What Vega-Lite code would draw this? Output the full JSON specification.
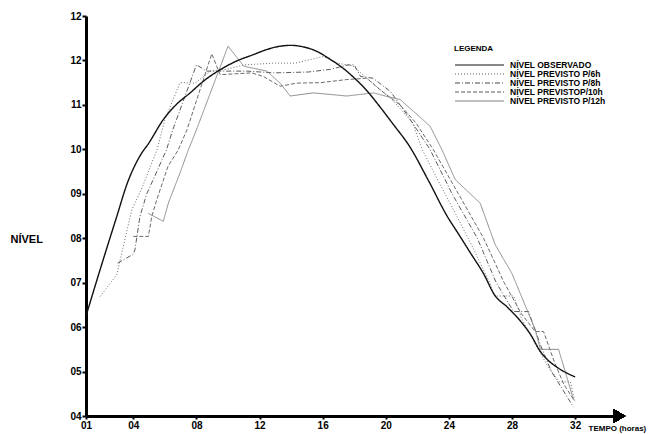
{
  "$schema": "https://vega.github.io/schema/vega-lite/v6.json",
  "width": 527,
  "height": 400,
  "autosize": {"type": "none"},
  "padding": {"left": 86, "top": 16, "right": 40, "bottom": 18},
  "background": "white",
  "config": {"view": {"stroke": null}, "font": "Liberation Sans"},
  "datasets": {
    "niveis": [
      {"serie": "NÍVEL OBSERVADO", "hora": 1, "nivel": 6.25},
      {"serie": "NÍVEL OBSERVADO", "hora": 1.9, "nivel": 7.3},
      {"serie": "NÍVEL OBSERVADO", "hora": 2.95, "nivel": 8.49},
      {"serie": "NÍVEL OBSERVADO", "hora": 3.6, "nivel": 9.22},
      {"serie": "NÍVEL OBSERVADO", "hora": 4.4, "nivel": 9.84},
      {"serie": "NÍVEL OBSERVADO", "hora": 5.0, "nivel": 10.15},
      {"serie": "NÍVEL OBSERVADO", "hora": 5.9, "nivel": 10.67},
      {"serie": "NÍVEL OBSERVADO", "hora": 6.7, "nivel": 11.0},
      {"serie": "NÍVEL OBSERVADO", "hora": 7.6, "nivel": 11.27},
      {"serie": "NÍVEL OBSERVADO", "hora": 8.5, "nivel": 11.55},
      {"serie": "NÍVEL OBSERVADO", "hora": 9.5, "nivel": 11.79},
      {"serie": "NÍVEL OBSERVADO", "hora": 10.5, "nivel": 11.98},
      {"serie": "NÍVEL OBSERVADO", "hora": 11.6, "nivel": 12.13},
      {"serie": "NÍVEL OBSERVADO", "hora": 12.5, "nivel": 12.25},
      {"serie": "NÍVEL OBSERVADO", "hora": 13.3, "nivel": 12.32},
      {"serie": "NÍVEL OBSERVADO", "hora": 14.0, "nivel": 12.34},
      {"serie": "NÍVEL OBSERVADO", "hora": 14.7, "nivel": 12.31},
      {"serie": "NÍVEL OBSERVADO", "hora": 15.4, "nivel": 12.24},
      {"serie": "NÍVEL OBSERVADO", "hora": 16.5, "nivel": 12.02},
      {"serie": "NÍVEL OBSERVADO", "hora": 17.2, "nivel": 11.85},
      {"serie": "NÍVEL OBSERVADO", "hora": 17.9, "nivel": 11.64},
      {"serie": "NÍVEL OBSERVADO", "hora": 18.8, "nivel": 11.32},
      {"serie": "NÍVEL OBSERVADO", "hora": 19.6, "nivel": 10.97},
      {"serie": "NÍVEL OBSERVADO", "hora": 20.5, "nivel": 10.55},
      {"serie": "NÍVEL OBSERVADO", "hora": 21.5, "nivel": 10.07},
      {"serie": "NÍVEL OBSERVADO", "hora": 22.7, "nivel": 9.3},
      {"serie": "NÍVEL OBSERVADO", "hora": 23.9, "nivel": 8.49},
      {"serie": "NÍVEL OBSERVADO", "hora": 24.6, "nivel": 8.1},
      {"serie": "NÍVEL OBSERVADO", "hora": 25.4, "nivel": 7.65},
      {"serie": "NÍVEL OBSERVADO", "hora": 26.2, "nivel": 7.2},
      {"serie": "NÍVEL OBSERVADO", "hora": 26.9, "nivel": 6.72},
      {"serie": "NÍVEL OBSERVADO", "hora": 27.7, "nivel": 6.45},
      {"serie": "NÍVEL OBSERVADO", "hora": 28.5, "nivel": 6.15},
      {"serie": "NÍVEL OBSERVADO", "hora": 29.2, "nivel": 5.82},
      {"serie": "NÍVEL OBSERVADO", "hora": 29.8, "nivel": 5.45},
      {"serie": "NÍVEL OBSERVADO", "hora": 30.3, "nivel": 5.25},
      {"serie": "NÍVEL OBSERVADO", "hora": 30.8, "nivel": 5.11},
      {"serie": "NÍVEL OBSERVADO", "hora": 31.4, "nivel": 4.98},
      {"serie": "NÍVEL OBSERVADO", "hora": 32, "nivel": 4.88},

      {"serie": "NÍVEL PREVISTO P/6h", "hora": 1.9, "nivel": 6.69},
      {"serie": "NÍVEL PREVISTO P/6h", "hora": 2.95, "nivel": 7.18},
      {"serie": "NÍVEL PREVISTO P/6h", "hora": 3.9, "nivel": 8.64},
      {"serie": "NÍVEL PREVISTO P/6h", "hora": 4.5, "nivel": 9.09},
      {"serie": "NÍVEL PREVISTO P/6h", "hora": 5.5, "nivel": 9.99},
      {"serie": "NÍVEL PREVISTO P/6h", "hora": 6.0, "nivel": 10.67},
      {"serie": "NÍVEL PREVISTO P/6h", "hora": 6.96, "nivel": 11.5},
      {"serie": "NÍVEL PREVISTO P/6h", "hora": 7.9, "nivel": 11.49},
      {"serie": "NÍVEL PREVISTO P/6h", "hora": 8.9, "nivel": 11.76},
      {"serie": "NÍVEL PREVISTO P/6h", "hora": 9.9, "nivel": 11.8},
      {"serie": "NÍVEL PREVISTO P/6h", "hora": 11.0, "nivel": 11.9},
      {"serie": "NÍVEL PREVISTO P/6h", "hora": 12.9, "nivel": 11.94},
      {"serie": "NÍVEL PREVISTO P/6h", "hora": 14.3, "nivel": 11.94},
      {"serie": "NÍVEL PREVISTO P/6h", "hora": 16.05, "nivel": 12.09},
      {"serie": "NÍVEL PREVISTO P/6h", "hora": 16.9, "nivel": 11.94},
      {"serie": "NÍVEL PREVISTO P/6h", "hora": 17.9, "nivel": 11.88},
      {"serie": "NÍVEL PREVISTO P/6h", "hora": 18.8, "nivel": 11.6},
      {"serie": "NÍVEL PREVISTO P/6h", "hora": 20.5, "nivel": 11.08},
      {"serie": "NÍVEL PREVISTO P/6h", "hora": 21.7, "nivel": 10.6},
      {"serie": "NÍVEL PREVISTO P/6h", "hora": 22.3, "nivel": 10.0},
      {"serie": "NÍVEL PREVISTO P/6h", "hora": 23.4, "nivel": 9.24},
      {"serie": "NÍVEL PREVISTO P/6h", "hora": 24.5, "nivel": 8.5},
      {"serie": "NÍVEL PREVISTO P/6h", "hora": 25.5, "nivel": 7.8},
      {"serie": "NÍVEL PREVISTO P/6h", "hora": 26.6, "nivel": 6.99},
      {"serie": "NÍVEL PREVISTO P/6h", "hora": 26.9, "nivel": 6.7},
      {"serie": "NÍVEL PREVISTO P/6h", "hora": 28.1, "nivel": 6.7},
      {"serie": "NÍVEL PREVISTO P/6h", "hora": 28.6, "nivel": 6.2},
      {"serie": "NÍVEL PREVISTO P/6h", "hora": 29.5, "nivel": 5.6},
      {"serie": "NÍVEL PREVISTO P/6h", "hora": 30.3, "nivel": 5.1},
      {"serie": "NÍVEL PREVISTO P/6h", "hora": 31.0, "nivel": 4.77},
      {"serie": "NÍVEL PREVISTO P/6h", "hora": 31.7, "nivel": 4.77},
      {"serie": "NÍVEL PREVISTO P/6h", "hora": 32, "nivel": 4.3},

      {"serie": "NÍVEL PREVISTO P/8h", "hora": 3.0, "nivel": 7.44},
      {"serie": "NÍVEL PREVISTO P/8h", "hora": 4.0, "nivel": 7.64},
      {"serie": "NÍVEL PREVISTO P/8h", "hora": 4.1, "nivel": 7.74},
      {"serie": "NÍVEL PREVISTO P/8h", "hora": 4.42, "nivel": 8.49},
      {"serie": "NÍVEL PREVISTO P/8h", "hora": 4.85, "nivel": 9.0},
      {"serie": "NÍVEL PREVISTO P/8h", "hora": 5.3, "nivel": 9.35},
      {"serie": "NÍVEL PREVISTO P/8h", "hora": 6.1, "nivel": 9.99},
      {"serie": "NÍVEL PREVISTO P/8h", "hora": 6.5, "nivel": 10.44},
      {"serie": "NÍVEL PREVISTO P/8h", "hora": 8.0, "nivel": 11.9},
      {"serie": "NÍVEL PREVISTO P/8h", "hora": 8.65, "nivel": 11.76},
      {"serie": "NÍVEL PREVISTO P/8h", "hora": 9.7, "nivel": 11.76},
      {"serie": "NÍVEL PREVISTO P/8h", "hora": 11.2, "nivel": 11.76},
      {"serie": "NÍVEL PREVISTO P/8h", "hora": 12.9, "nivel": 11.72},
      {"serie": "NÍVEL PREVISTO P/8h", "hora": 15.1, "nivel": 11.74},
      {"serie": "NÍVEL PREVISTO P/8h", "hora": 16.5, "nivel": 11.8},
      {"serie": "NÍVEL PREVISTO P/8h", "hora": 17.6, "nivel": 11.9},
      {"serie": "NÍVEL PREVISTO P/8h", "hora": 18.0, "nivel": 11.9},
      {"serie": "NÍVEL PREVISTO P/8h", "hora": 18.4, "nivel": 11.64},
      {"serie": "NÍVEL PREVISTO P/8h", "hora": 19.2, "nivel": 11.6},
      {"serie": "NÍVEL PREVISTO P/8h", "hora": 20.3, "nivel": 11.3},
      {"serie": "NÍVEL PREVISTO P/8h", "hora": 21.3, "nivel": 10.8},
      {"serie": "NÍVEL PREVISTO P/8h", "hora": 22.8, "nivel": 10.0},
      {"serie": "NÍVEL PREVISTO P/8h", "hora": 24.2, "nivel": 9.0},
      {"serie": "NÍVEL PREVISTO P/8h", "hora": 25.8, "nivel": 8.0},
      {"serie": "NÍVEL PREVISTO P/8h", "hora": 27.0, "nivel": 7.0},
      {"serie": "NÍVEL PREVISTO P/8h", "hora": 28.1, "nivel": 6.35},
      {"serie": "NÍVEL PREVISTO P/8h", "hora": 29.05, "nivel": 6.35},
      {"serie": "NÍVEL PREVISTO P/8h", "hora": 29.8, "nivel": 5.6},
      {"serie": "NÍVEL PREVISTO P/8h", "hora": 30.5, "nivel": 5.0},
      {"serie": "NÍVEL PREVISTO P/8h", "hora": 31.2, "nivel": 4.6},
      {"serie": "NÍVEL PREVISTO P/8h", "hora": 31.9, "nivel": 4.2},

      {"serie": "NÍVEL PREVISTOP/10h", "hora": 4.0, "nivel": 8.04},
      {"serie": "NÍVEL PREVISTOP/10h", "hora": 4.95, "nivel": 8.04},
      {"serie": "NÍVEL PREVISTOP/10h", "hora": 5.17, "nivel": 8.49},
      {"serie": "NÍVEL PREVISTOP/10h", "hora": 5.48, "nivel": 8.86},
      {"serie": "NÍVEL PREVISTOP/10h", "hora": 6.2, "nivel": 9.62},
      {"serie": "NÍVEL PREVISTOP/10h", "hora": 6.85, "nivel": 9.99},
      {"serie": "NÍVEL PREVISTOP/10h", "hora": 7.4, "nivel": 10.44},
      {"serie": "NÍVEL PREVISTOP/10h", "hora": 8.97, "nivel": 12.15},
      {"serie": "NÍVEL PREVISTOP/10h", "hora": 9.5, "nivel": 11.68},
      {"serie": "NÍVEL PREVISTOP/10h", "hora": 10.5, "nivel": 11.7},
      {"serie": "NÍVEL PREVISTOP/10h", "hora": 11.5, "nivel": 11.72},
      {"serie": "NÍVEL PREVISTOP/10h", "hora": 12.24, "nivel": 11.64},
      {"serie": "NÍVEL PREVISTOP/10h", "hora": 13.3, "nivel": 11.42},
      {"serie": "NÍVEL PREVISTOP/10h", "hora": 14.36, "nivel": 11.49},
      {"serie": "NÍVEL PREVISTOP/10h", "hora": 15.84, "nivel": 11.5},
      {"serie": "NÍVEL PREVISTOP/10h", "hora": 17.53, "nivel": 11.57},
      {"serie": "NÍVEL PREVISTOP/10h", "hora": 18.8, "nivel": 11.6},
      {"serie": "NÍVEL PREVISTOP/10h", "hora": 19.64, "nivel": 11.34},
      {"serie": "NÍVEL PREVISTOP/10h", "hora": 20.9, "nivel": 11.0},
      {"serie": "NÍVEL PREVISTOP/10h", "hora": 21.9, "nivel": 10.6},
      {"serie": "NÍVEL PREVISTOP/10h", "hora": 23.0, "nivel": 10.0},
      {"serie": "NÍVEL PREVISTOP/10h", "hora": 24.6, "nivel": 9.0},
      {"serie": "NÍVEL PREVISTOP/10h", "hora": 26.2, "nivel": 8.0},
      {"serie": "NÍVEL PREVISTOP/10h", "hora": 27.5, "nivel": 7.0},
      {"serie": "NÍVEL PREVISTOP/10h", "hora": 28.6, "nivel": 6.3},
      {"serie": "NÍVEL PREVISTOP/10h", "hora": 29.47, "nivel": 5.9},
      {"serie": "NÍVEL PREVISTOP/10h", "hora": 30.0, "nivel": 5.9},
      {"serie": "NÍVEL PREVISTOP/10h", "hora": 30.7, "nivel": 5.2},
      {"serie": "NÍVEL PREVISTOP/10h", "hora": 31.3, "nivel": 4.7},
      {"serie": "NÍVEL PREVISTOP/10h", "hora": 31.95, "nivel": 4.35},

      {"serie": "NÍVEL PREVISTO P/12h", "hora": 4.95, "nivel": 8.56},
      {"serie": "NÍVEL PREVISTO P/12h", "hora": 5.9, "nivel": 8.38},
      {"serie": "NÍVEL PREVISTO P/12h", "hora": 6.22, "nivel": 8.79},
      {"serie": "NÍVEL PREVISTO P/12h", "hora": 6.96, "nivel": 9.47},
      {"serie": "NÍVEL PREVISTO P/12h", "hora": 7.49, "nivel": 9.99},
      {"serie": "NÍVEL PREVISTO P/12h", "hora": 8.0, "nivel": 10.44},
      {"serie": "NÍVEL PREVISTO P/12h", "hora": 10.0, "nivel": 12.32},
      {"serie": "NÍVEL PREVISTO P/12h", "hora": 11.0, "nivel": 11.87},
      {"serie": "NÍVEL PREVISTO P/12h", "hora": 12.46, "nivel": 11.76},
      {"serie": "NÍVEL PREVISTO P/12h", "hora": 13.3, "nivel": 11.49},
      {"serie": "NÍVEL PREVISTO P/12h", "hora": 13.94, "nivel": 11.2},
      {"serie": "NÍVEL PREVISTO P/12h", "hora": 15.41, "nivel": 11.27},
      {"serie": "NÍVEL PREVISTO P/12h", "hora": 17.53, "nivel": 11.2},
      {"serie": "NÍVEL PREVISTO P/12h", "hora": 19.22, "nivel": 11.27},
      {"serie": "NÍVEL PREVISTO P/12h", "hora": 20.07, "nivel": 11.19},
      {"serie": "NÍVEL PREVISTO P/12h", "hora": 20.91, "nivel": 11.12},
      {"serie": "NÍVEL PREVISTO P/12h", "hora": 22.81, "nivel": 10.52},
      {"serie": "NÍVEL PREVISTO P/12h", "hora": 23.56, "nivel": 9.99},
      {"serie": "NÍVEL PREVISTO P/12h", "hora": 24.4, "nivel": 9.32},
      {"serie": "NÍVEL PREVISTO P/12h", "hora": 25.98, "nivel": 8.79},
      {"serie": "NÍVEL PREVISTO P/12h", "hora": 26.94, "nivel": 7.85},
      {"serie": "NÍVEL PREVISTO P/12h", "hora": 27.99, "nivel": 7.21},
      {"serie": "NÍVEL PREVISTO P/12h", "hora": 28.95, "nivel": 6.39},
      {"serie": "NÍVEL PREVISTO P/12h", "hora": 29.47, "nivel": 5.94},
      {"serie": "NÍVEL PREVISTO P/12h", "hora": 29.8, "nivel": 5.5},
      {"serie": "NÍVEL PREVISTO P/12h", "hora": 30.95, "nivel": 5.5},
      {"serie": "NÍVEL PREVISTO P/12h", "hora": 31.37, "nivel": 5.0},
      {"serie": "NÍVEL PREVISTO P/12h", "hora": 31.9, "nivel": 4.36}
    ]
  },
  "data": {"name": "niveis"},
  "encoding": {
    "x": {
      "field": "hora",
      "type": "quantitative",
      "scale": {"domain": [1, 34.4], "nice": false, "zero": false},
      "axis": {
        "values": [1, 4, 8, 12, 16, 20, 24, 28, 32],
        "labelExpr": "datum.value < 10 ? '0' + datum.value : '' + datum.value",
        "title": "TEMPO (horas)",
        "titleX": 502,
        "titleY": 12,
        "titleAlign": "left",
        "titleBaseline": "middle",
        "titleFontSize": 8,
        "titleFontWeight": "bold",
        "titleColor": "black",
        "domainWidth": 3,
        "domainColor": "black",
        "tickColor": "black",
        "tickWidth": 2,
        "tickSize": 3,
        "labelFontSize": 10,
        "labelFontWeight": "bold",
        "labelColor": "black",
        "labelPadding": 1,
        "labelFlush": false,
        "labelOverlap": false,
        "grid": false
      }
    },
    "y": {
      "field": "nivel",
      "type": "quantitative",
      "scale": {"domain": [4, 13], "nice": false, "zero": false},
      "axis": {
        "values": [4, 5, 6, 7, 8, 9, 10, 11, 12, 13],
        "labelExpr": "datum.value == 13 ? '12' : (datum.value < 10 ? '0' + datum.value : '' + datum.value)",
        "title": "NÍVEL",
        "titleAngle": 0,
        "titleX": -76,
        "titleY": 223,
        "titleAlign": "left",
        "titleBaseline": "middle",
        "titleFontSize": 11,
        "titleFontWeight": "bold",
        "titleColor": "black",
        "domainWidth": 3,
        "domainColor": "black",
        "tickColor": "black",
        "tickWidth": 2,
        "tickSize": 4,
        "labelFontSize": 10,
        "labelFontWeight": "bold",
        "labelColor": "black",
        "labelPadding": 1,
        "labelFlush": false,
        "labelOverlap": false,
        "grid": false
      }
    },
    "color": {
      "field": "serie",
      "type": "nominal",
      "scale": {
        "domain": ["NÍVEL OBSERVADO", "NÍVEL PREVISTO P/6h", "NÍVEL PREVISTO P/8h", "NÍVEL PREVISTOP/10h", "NÍVEL PREVISTO P/12h"],
        "range": ["#111111", "#5a5a5a", "#484848", "#5a5a5a", "#808080"]
      },
      "legend": {
        "orient": "none",
        "legendX": 368,
        "legendY": 29,
        "title": "LEGENDA",
        "titleFontSize": 8,
        "titleFontWeight": "bold",
        "titleColor": "black",
        "titlePadding": 8,
        "labelFontSize": 8.5,
        "labelFontWeight": "bold",
        "labelColor": "black",
        "symbolType": "stroke",
        "symbolSize": 2400,
        "symbolStrokeWidth": 1.1,
        "clipHeight": 8,
        "rowPadding": 0,
        "labelOffset": 5
      }
    },
    "strokeDash": {
      "field": "serie",
      "type": "nominal",
      "scale": {
        "domain": ["NÍVEL OBSERVADO", "NÍVEL PREVISTO P/6h", "NÍVEL PREVISTO P/8h", "NÍVEL PREVISTOP/10h", "NÍVEL PREVISTO P/12h"],
        "range": [[1, 0], [1, 2], [5, 2, 1, 2], [4, 2], [1, 0]]
      },
      "legend": {
        "orient": "none",
        "legendX": 368,
        "legendY": 29,
        "title": "LEGENDA",
        "titleFontSize": 8,
        "titleFontWeight": "bold",
        "titleColor": "black",
        "titlePadding": 8,
        "labelFontSize": 8.5,
        "labelFontWeight": "bold",
        "labelColor": "black",
        "symbolType": "stroke",
        "symbolSize": 2400,
        "symbolStrokeWidth": 1.1,
        "clipHeight": 8,
        "rowPadding": 0,
        "labelOffset": 5
      }
    }
  },
  "layer": [
    {
      "transform": [{"filter": "datum.serie != 'NÍVEL OBSERVADO'"}],
      "mark": {"type": "line", "strokeWidth": 0.9}
    },
    {
      "transform": [{"filter": "datum.serie == 'NÍVEL OBSERVADO'"}],
      "mark": {"type": "line", "strokeWidth": 1.4, "interpolate": "monotone"}
    },
    {
      "mark": {"type": "point", "shape": "triangle-right", "filled": true, "color": "black", "opacity": 1, "size": 180, "clip": false},
      "encoding": {
        "x": {"datum": 34.8, "type": "quantitative"},
        "y": {"datum": 4, "type": "quantitative"},
        "color": {"value": "black"},
        "strokeDash": {"value": [1, 0]}
      }
    }
  ]
}
